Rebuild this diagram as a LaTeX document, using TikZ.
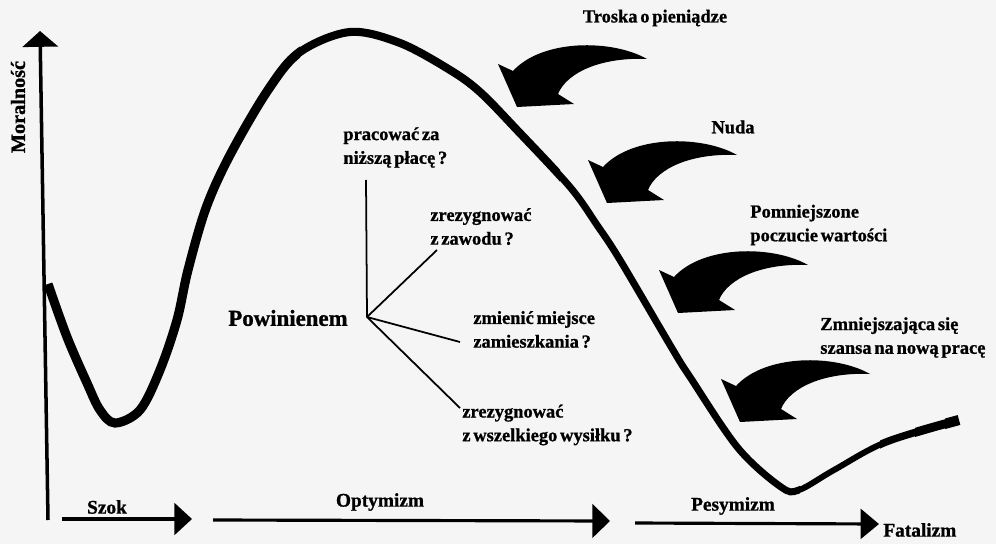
\documentclass[tikz,border=0pt]{standalone}
\usepackage{fontspec}
\setmainfont{Liberation Serif}[WordSpace=0.6, BoldFeatures={FakeBold=1}]
\usetikzlibrary{arrows.meta}
\newcommand\moralcurve{plot[smooth,tension=0.55] coordinates {(48,284) (67,337) (87,383) (100,410) (115,423) (140,410) (160,370) (177,320) (188,270) (206,208) (230,155) (268,90) (300,52) (350,32) (400,43) (450,70) (480,92) (517,130) (570,187) (597,225) (620,260) (673,350) (690,377) (738,448) (781,487) (799,490) (834,470) (886,442) (959,420)}}
\begin{document}
\begin{tikzpicture}[x=0.02cm,y=-0.02cm,
  lbl/.style={font=\bfseries\fontsize{10.5}{13.5}\selectfont, inner sep=0pt, align=left, anchor=west},
  axlbl/.style={font=\bfseries\fontsize{11}{13}\selectfont, inner sep=0pt},
  fanline/.style={line width=1pt},
  axisline/.style={line width=2pt},
  timeline/.style={line width=1.8pt},
  curlyarrow/.pic={\fill (-4,-36) -- (-19,-43) -- (0,0) -- (57,-3) -- (41,-13) .. controls (50,-35) and (85,-50) .. (130,-48) .. controls (95,-68) and (25,-68) .. cycle;}
]
\fill[gray!8] (0,0) rectangle (996,544);
\useasboundingbox (0,0) rectangle (996,544);

% vertical axis
\coordinate (ybot) at (48,520);
\coordinate (ytop) at (40,31);
\draw[axisline,-{Triangle[length=9pt,width=20pt]}] (ybot) -- (ytop);
\node[font=\bfseries\fontsize{11.5}{13}\selectfont, rotate=90, inner sep=0pt] (moral) at (18,107) {Moralność};

% time arrows
\coordinate (s0) at (62,519);  \coordinate (s1) at (192,519);
\coordinate (o0) at (213,520); \coordinate (o1) at (610,521);
\coordinate (p0) at (635,523); \coordinate (p1) at (879,524);
\draw[timeline,-{Triangle[length=10pt,width=18pt]}] (s0) -- (s1);
\draw[timeline,-{Triangle[length=10pt,width=19pt]}] (o0) -- (o1);
\draw[timeline,-{Triangle[length=10.5pt,width=17pt]}] (p0) -- (p1);
\node[axlbl] (szok) at (107,507) {Szok};
\node[axlbl] (opt) at (380,502) {Optymizm};
\node[axlbl] (pes) at (733,506) {Pesymizm};
\node[axlbl, anchor=west] (fat) at (883,530) {Fatalizm};

% morale curve
\begin{scope}\clip (0,0) rectangle (300,544); \draw[line width=5.2pt] \moralcurve; \end{scope}
\begin{scope}\clip (300,0) rectangle (560,544); \draw[line width=4.6pt] \moralcurve; \end{scope}
\begin{scope}\clip (560,0) rectangle (800,544); \draw[line width=4pt] \moralcurve; \end{scope}
\begin{scope}\clip (800,0) rectangle (880,544); \draw[line width=3.4pt] \moralcurve; \end{scope}
\begin{scope}\clip (880,0) rectangle (915,544); \draw[line width=4.2pt] \moralcurve; \end{scope}
\begin{scope}\clip (915,0) rectangle (945,544); \draw[line width=5pt] \moralcurve; \end{scope}
\begin{scope}\clip (945,0) rectangle (996,544); \draw[line width=5.8pt] \moralcurve; \end{scope}

% curly arrows
\pic at (517,107) {curlyarrow};
\pic at (607,203) {curlyarrow};
\pic at (678,313) {curlyarrow};
\pic at (740,422) {curlyarrow};

% labels
\node[lbl, anchor=center] (troska) at (655,18) {Troska o pieniądze};
\node[lbl, anchor=center] (nuda) at (733,127) {Nuda};
\node[lbl] (pomn) at (750,225) {Pomniejszone\\poczucie wartości};
\node[lbl] (zmniej) at (820,337.5) {Zmniejszająca się\\szansa na nową pracę};

% fan of questions
\node[font=\bfseries\fontsize{13}{15}\selectfont, inner sep=0pt] (powin) at (288,318) {Powinienem};
\node[lbl] (praca) at (343,147.5) {pracować za\\niższą płacę ?};
\node[lbl] (zawod) at (430,226.5) {zrezygnować\\z zawodu ?};
\node[lbl] (miejsce) at (473,329.5) {zmienić miejsce\\zamieszkania ?};
\node[lbl] (wysilek) at (462,425) {zrezygnować\\z wszelkiego wysiłku ?};
\coordinate (fan) at (367,317);
\coordinate (f1) at (366,180);
\coordinate (f2) at (437,250);
\coordinate (f3) at (460,342);
\coordinate (f4) at (460,408);
\draw[fanline] (f1) -- (fan) -- (f4);
\draw[fanline] (fan) -- (f2);
\draw[fanline] (fan) -- (f3);
\end{tikzpicture}
\end{document}
